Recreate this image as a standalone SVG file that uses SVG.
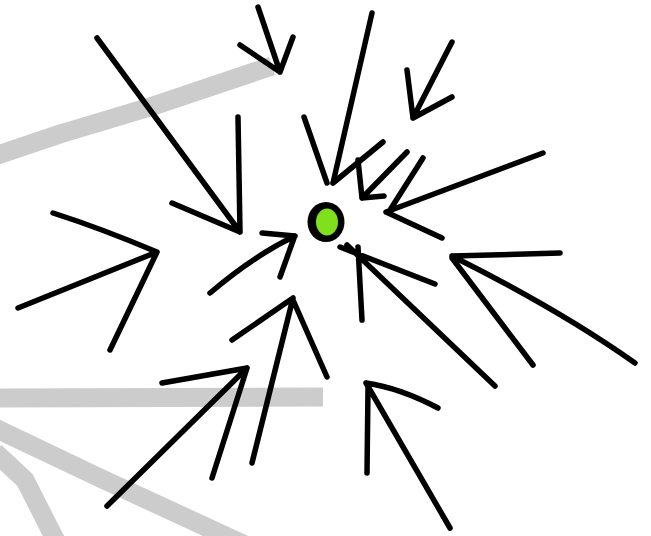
<svg xmlns="http://www.w3.org/2000/svg" width="651" height="536" viewBox="0 0 651 536">
<style>
.bg{fill:none;stroke:#cccccc;stroke-width:19;stroke-linecap:butt;stroke-linejoin:round}
.arw{fill:none;stroke:#000;stroke-width:5.5;stroke-linecap:round;stroke-linejoin:round}
</style>
<rect width="651" height="536" fill="#ffffff"/>
<g id="background">
<path class="bg" d="M-5,156 L60,134 L150,107 L272,66"/>
<path class="bg" d="M-5,398 L323,397"/>
<path class="bg" d="M-5,428 L100,478 L245,545"/>
<path class="bg" d="M-5,452 L25,480 L58,545"/>
</g>
<g id="connectors">
<path id="a1" class="arw" d="M258,7 L280,72 M240,45 L280,72 M293,37 L280,72"/>
<path id="a2" class="arw" d="M97,38 L240,232 M238,117 L240,232 M172,203 L240,232"/>
<path id="a3" class="arw" d="M18,308 L157,252 M53,213 Q100,228 157,252 M110,350 L157,252"/>
<path id="a4" class="arw" d="M210,293 Q255,255 295,236 M262,233 L295,236 M280,277 L294,238"/>
<path id="a5" class="arw" d="M372,13 L333,183 M304,117 L327,183 M383,142 L333,183"/>
<path id="a6" class="arw" d="M452,42 L413,118 M407,70 L413,118 M452,97 L413,118"/>
<path id="a7" class="arw" d="M407,152 L362,198 M358,160 L362,198 L384,196"/>
<path id="a8" class="arw" d="M543,153 L386,212 M423,158 L390,210 M442,238 L386,212"/>
<path id="a9" class="arw" d="M495,386 L347,245 M362,320 L358,247 M435,284 L340,247"/>
<path id="a10" class="arw" d="M635,363 Q560,310 452,256 M560,253 L452,256 M533,365 L452,258"/>
<path id="a11" class="arw" d="M450,528 L366,383 M438,408 Q400,388 366,383 M367,473 L368,388"/>
<path id="a12" class="arw" d="M252,463 L293,298 M232,340 L293,298 M327,377 L293,300"/>
<path id="a13" class="arw" d="M107,506 L247,368 M162,383 L247,368 M212,478 L247,368"/>
</g>
<g id="dot">
<ellipse cx="326" cy="222" rx="18.5" ry="20" fill="#000"/>
<ellipse cx="327" cy="222" rx="11" ry="13.5" fill="#80e01c"/>
</g>
</svg>
